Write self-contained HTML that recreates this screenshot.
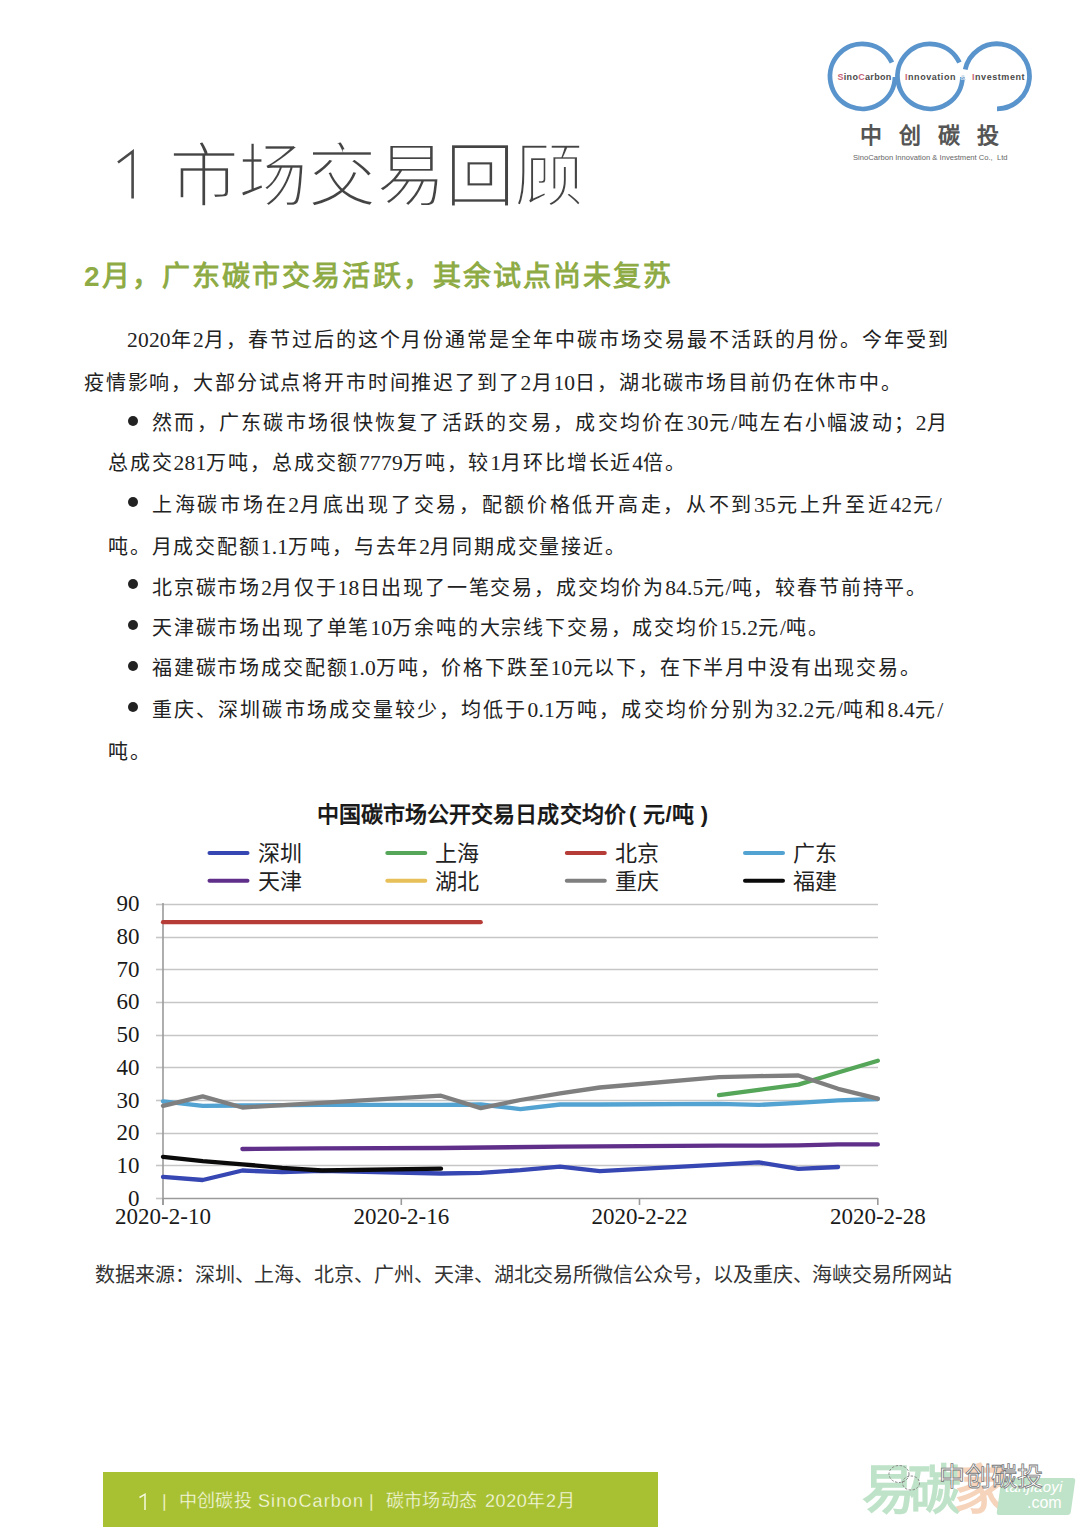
<!DOCTYPE html>
<html lang="zh-CN">
<head>
<meta charset="utf-8">
<style>
*{margin:0;padding:0;box-sizing:border-box}
html,body{width:1080px;height:1527px;overflow:hidden;background:#fff}
body{position:relative;font-family:"Liberation Sans",sans-serif;color:#222}
.abs{position:absolute;white-space:nowrap}
#title{left:168.5px;top:142px;font-size:70px;color:#444;-webkit-text-stroke:2.6px #fff;line-height:1;letter-spacing:-1px}
#head{left:84px;top:263px;font-size:28px;font-weight:bold;color:#8eab46;letter-spacing:2.1px;line-height:1}
.ln{position:absolute;white-space:nowrap;font-family:"Liberation Serif",sans-serif;font-size:20px;letter-spacing:1.83px;color:#222;line-height:30px;height:30px}
.j{text-align:justify;text-align-last:justify}
.ft{position:absolute;white-space:nowrap;top:1489px;font-size:18px;line-height:24px;color:#fafce6;-webkit-text-stroke:0.3px #a8c132}
.d{font-size:21.5px;letter-spacing:0.2px}
.bul{position:absolute;width:10px;height:10px;border-radius:50%;background:#222}
</style>
</head>
<body>
<!-- logo -->
<svg class="abs" style="left:820px;top:30px" width="230" height="100" viewBox="820 30 230 100">
  <g fill="none" stroke="#5a94cc" stroke-width="4.8">
    <path d="M891.95 62.57 A32.5 32.5 0 1 0 895 77"/>
    <path d="M959.45 62.57 A32.5 32.5 0 1 0 962.5 77"/>
    <path d="M965.2 69.5 A32.5 32.5 0 1 1 997 108.8"/>
  </g>
</svg>
<div class="abs" style="left:837.5px;top:72px;font-size:9px;font-weight:bold;color:#4a4a4a;letter-spacing:0.3px;line-height:11px"><span style="color:#c86478">S</span>ino<span style="color:#c86478">C</span>arbon</div>
<div class="abs" style="left:905px;top:72px;font-size:9px;font-weight:bold;color:#4a4a4a;letter-spacing:0.55px;line-height:11px"><span style="color:#c86478">I</span>nnovation</div>
<div class="abs" style="left:960px;top:72px;font-size:8px;font-weight:bold;color:#c8d8e8;line-height:11px">&amp;</div>
<div class="abs" style="left:972px;top:72px;font-size:9px;font-weight:bold;color:#4a4a4a;letter-spacing:0.55px;line-height:11px"><span style="color:#c86478">I</span>nvestment</div>
<div class="abs" style="left:860px;top:123px;font-size:22px;font-weight:bold;color:#555;letter-spacing:17px;line-height:26px">中创碳投</div>
<div class="abs" style="left:853px;top:153px;font-size:7.6px;color:#666;line-height:10px">SinoCarbon Innovation &amp; Investment Co.,&nbsp; Ltd</div>

<svg class="abs" style="left:110px;top:140px" width="40" height="70" viewBox="110 140 40 70"><path d="M118 162.5 L132.6 151.5 L132.6 198.5" fill="none" stroke="#4a4a4a" stroke-width="2.6" stroke-linejoin="miter"/></svg>
<div id="title" class="abs">市场交易回顾</div>
<div id="head" class="abs">2月，广东碳市交易活跃，其余试点尚未复苏</div>

<div class="ln j" style="left:127px;top:325px;width:823px"><span class="d">2020</span>年<span class="d">2</span>月，春节过后的这个月份通常是全年中碳市场交易最不活跃的月份。今年受到</div>
<div class="ln" style="left:84px;top:368px">疫情影响，大部分试点将开市时间推迟了到了<span class="d">2</span>月<span class="d">10</span>日，湖北碳市场目前仍在休市中。</div>
<div class="bul" style="left:128px;top:416px"></div>
<div class="ln j" style="left:152px;top:408px;width:797px">然而，广东碳市场很快恢复了活跃的交易，成交均价在<span class="d">30</span>元<span class="d">/</span>吨左右小幅波动；<span class="d">2</span>月</div>
<div class="ln" style="left:108px;top:448px">总成交<span class="d">281</span>万吨，总成交额<span class="d">7779</span>万吨，较<span class="d">1</span>月环比增长近<span class="d">4</span>倍。</div>
<div class="bul" style="left:128px;top:497px"></div>
<div class="ln j" style="left:152px;top:490px;width:790px">上海碳市场在<span class="d">2</span>月底出现了交易，配额价格低开高走，从不到<span class="d">35</span>元上升至近<span class="d">42</span>元<span class="d">/</span></div>
<div class="ln" style="left:108px;top:532px">吨。月成交配额<span class="d">1.1</span>万吨，与去年<span class="d">2</span>月同期成交量接近。</div>
<div class="bul" style="left:128px;top:579px"></div>
<div class="ln" style="left:152px;top:573px">北京碳市场<span class="d">2</span>月仅于<span class="d">18</span>日出现了一笔交易，成交均价为<span class="d">84.5</span>元<span class="d">/</span>吨，较春节前持平。</div>
<div class="bul" style="left:128px;top:620px"></div>
<div class="ln" style="left:152px;top:613px">天津碳市场出现了单笔<span class="d">10</span>万余吨的大宗线下交易，成交均价<span class="d">15.2</span>元<span class="d">/</span>吨。</div>
<div class="bul" style="left:128px;top:661px"></div>
<div class="ln" style="left:152px;top:653px">福建碳市场成交配额<span class="d">1.0</span>万吨，价格下跌至<span class="d">10</span>元以下，在下半月中没有出现交易。</div>
<div class="bul" style="left:128px;top:702px"></div>
<div class="ln j" style="left:152px;top:695px;width:791.5px">重庆、深圳碳市场成交量较少，均低于<span class="d">0.1</span>万吨，成交均价分别为<span class="d">32.2</span>元<span class="d">/</span>吨和<span class="d">8.4</span>元<span class="d">/</span></div>
<div class="ln" style="left:108px;top:737px">吨。</div>

<!-- CHART -->
<svg class="abs" style="left:0;top:780px" width="1080" height="460" viewBox="0 780 1080 460">
<g stroke="#c6c6c6" stroke-width="1.6"><line x1="156" y1="1198.5" x2="163" y2="1198.5"/><line x1="163" y1="1165.5" x2="878" y2="1165.5"/><line x1="156" y1="1165.5" x2="163" y2="1165.5"/><line x1="163" y1="1133.5" x2="878" y2="1133.5"/><line x1="156" y1="1133.5" x2="163" y2="1133.5"/><line x1="163" y1="1100.5" x2="878" y2="1100.5"/><line x1="156" y1="1100.5" x2="163" y2="1100.5"/><line x1="163" y1="1067.5" x2="878" y2="1067.5"/><line x1="156" y1="1067.5" x2="163" y2="1067.5"/><line x1="163" y1="1035.5" x2="878" y2="1035.5"/><line x1="156" y1="1035.5" x2="163" y2="1035.5"/><line x1="163" y1="1002.5" x2="878" y2="1002.5"/><line x1="156" y1="1002.5" x2="163" y2="1002.5"/><line x1="163" y1="969.5" x2="878" y2="969.5"/><line x1="156" y1="969.5" x2="163" y2="969.5"/><line x1="163" y1="937.5" x2="878" y2="937.5"/><line x1="156" y1="937.5" x2="163" y2="937.5"/><line x1="163" y1="904.5" x2="878" y2="904.5"/><line x1="156" y1="904.5" x2="163" y2="904.5"/></g>
<g stroke="#9a9a9a" stroke-width="1.6"><line x1="163" y1="1198.5" x2="878" y2="1198.5"/><line x1="163" y1="903" x2="163" y2="1205"/><line x1="163.0" y1="1198" x2="163.0" y2="1205"/><line x1="401.3" y1="1198" x2="401.3" y2="1205"/><line x1="639.5" y1="1198" x2="639.5" y2="1205"/><line x1="877.8" y1="1198" x2="877.8" y2="1205"/></g>
<g font-family="Liberation Serif" font-size="23" fill="#1a1a1a"><text x="139.5" y="1205.5" text-anchor="end">0</text><text x="139.5" y="1172.8" text-anchor="end">10</text><text x="139.5" y="1140.1" text-anchor="end">20</text><text x="139.5" y="1107.5" text-anchor="end">30</text><text x="139.5" y="1074.8" text-anchor="end">40</text><text x="139.5" y="1042.1" text-anchor="end">50</text><text x="139.5" y="1009.4" text-anchor="end">60</text><text x="139.5" y="976.7" text-anchor="end">70</text><text x="139.5" y="944.1" text-anchor="end">80</text><text x="139.5" y="911.4" text-anchor="end">90</text><text x="163.0" y="1224" text-anchor="middle">2020-2-10</text><text x="401.3" y="1224" text-anchor="middle">2020-2-16</text><text x="639.5" y="1224" text-anchor="middle">2020-2-22</text><text x="877.8" y="1224" text-anchor="middle">2020-2-28</text></g>
<g fill="none" stroke-width="4.3" stroke-linejoin="round" stroke-linecap="round"><polyline points="163.0,1176.8 202.7,1180.0 242.4,1170.5 282.1,1172.2 321.8,1170.9 441.0,1173.5 480.7,1172.8 520.4,1170.2 560.1,1166.6 599.8,1171.2 719.0,1164.7 758.7,1162.4 798.4,1168.9 838.1,1167.0" stroke="#3646b2"/><polyline points="719.0,1095.1 758.7,1089.8 798.4,1084.6 838.1,1072.5 877.8,1060.7" stroke="#55a659"/><polyline points="163.0,922.2 480.7,922.2" stroke="#b63c38"/><polyline points="163.0,1101.3 202.7,1105.8 242.4,1105.5 282.1,1105.2 321.8,1104.9 441.0,1104.9 480.7,1104.5 520.4,1109.1 560.1,1104.5 599.8,1104.5 719.0,1103.9 758.7,1104.9 798.4,1102.9 838.1,1100.3 877.8,1099.0" stroke="#52a2d2"/><polyline points="242.4,1149.0 321.8,1148.3 441.0,1148.0 560.1,1146.7 719.0,1145.7 798.4,1145.4 838.1,1144.4 877.8,1144.4" stroke="#5f2f8a"/><polyline points="163.0,1105.8 202.7,1096.4 242.4,1107.5 441.0,1095.7 480.7,1108.1 520.4,1100.0 560.1,1093.4 599.8,1087.5 719.0,1077.1 758.7,1076.1 798.4,1075.5 838.1,1088.8 877.8,1098.7" stroke="#7f7f7f"/><polyline points="163.0,1156.8 202.7,1161.1 242.4,1164.3 282.1,1167.9 321.8,1170.5 441.0,1168.6" stroke="#0a0a0a"/></g>
<g stroke-width="4" stroke-linecap="round"><line x1="209.5" y1="853" x2="247.5" y2="853" stroke="#3646b2"/><line x1="387.3" y1="853" x2="425.3" y2="853" stroke="#55a659"/><line x1="566.8" y1="853" x2="604.8" y2="853" stroke="#b63c38"/><line x1="745" y1="853" x2="783" y2="853" stroke="#52a2d2"/><line x1="209.5" y1="880.8" x2="247.5" y2="880.8" stroke="#5f2f8a"/><line x1="387.3" y1="880.8" x2="425.3" y2="880.8" stroke="#e8c05a"/><line x1="566.8" y1="880.8" x2="604.8" y2="880.8" stroke="#7f7f7f"/><line x1="745" y1="880.8" x2="783" y2="880.8" stroke="#0a0a0a"/></g>
<g font-family="Liberation Sans" font-size="22" fill="#222"><text x="257.5" y="861">深圳</text><text x="435.3" y="861">上海</text><text x="614.8" y="861">北京</text><text x="793" y="861">广东</text><text x="257.5" y="888.8">天津</text><text x="435.3" y="888.8">湖北</text><text x="614.8" y="888.8">重庆</text><text x="793" y="888.8">福建</text></g>
<text x="316.5" y="822" font-family="Liberation Sans" font-size="22" font-weight="bold" fill="#1a1a1a" letter-spacing="0.1">中国碳市场公开交易日成交均价<tspan dx="3">(</tspan><tspan dx="7">元/吨</tspan><tspan dx="7">)</tspan></text>
</svg>
<div class="abs" style="left:95px;top:1263px;font-size:20px;color:#333;line-height:24px;letter-spacing:-0.07px">数据来源：深圳、上海、北京、广州、天津、湖北交易所微信公众号，以及重庆、海峡交易所网站</div>

<!-- footer -->
<div class="abs" style="left:103px;top:1472px;width:555px;height:55px;background:#a8c132"></div>
<svg class="abs" style="left:130px;top:1488px" width="25" height="26" viewBox="130 1488 25 26"><path d="M139.5 1497.5 L145 1494.2 L145 1510" fill="none" stroke="#f6f9e0" stroke-width="1.5"/></svg>
<div class="ft" style="left:162px">|</div>
<div class="ft" style="left:179px;letter-spacing:0.2px">中创碳投</div>
<div class="ft" style="left:258px;letter-spacing:1.1px">SinoCarbon</div>
<div class="ft" style="left:369px">|</div>
<div class="ft" style="left:385.5px;letter-spacing:0.4px">碳市场动态</div>
<div class="ft" style="left:485px;letter-spacing:0.6px">2020年2月</div>

<!-- watermark -->
<div class="abs" style="left:862px;top:1461px;font-size:53px;font-weight:bold;color:#bfe3c8;line-height:60px;letter-spacing:-7px">易碳<span style="color:#f6d3bb">家</span></div>
<div class="abs" style="left:999px;top:1478px;width:74px;height:37px;background:#bfe3c8;transform:skewX(-8deg);border-radius:3px"></div>
<div class="abs" style="left:1005px;top:1478px;font-size:15px;color:#fff;line-height:18px;font-style:italic;letter-spacing:0.3px">tanjiaoyi</div>
<div class="abs" style="left:1027px;top:1494px;font-size:16px;color:#fff;line-height:18px">.com</div>
<svg class="abs" style="left:880px;top:1455px" width="50" height="45" viewBox="880 1455 50 45"><g fill="none" stroke="#888" stroke-width="1" stroke-dasharray="2.5 1.5"><ellipse cx="899" cy="1474" rx="10" ry="8.5"/><ellipse cx="911" cy="1483" rx="8.5" ry="7"/></g></svg>
<div class="abs" style="left:939px;top:1461px;font-size:26px;color:#fff;-webkit-text-stroke:0.8px #777;line-height:32px">中创碳投</div>
</body>
</html>
